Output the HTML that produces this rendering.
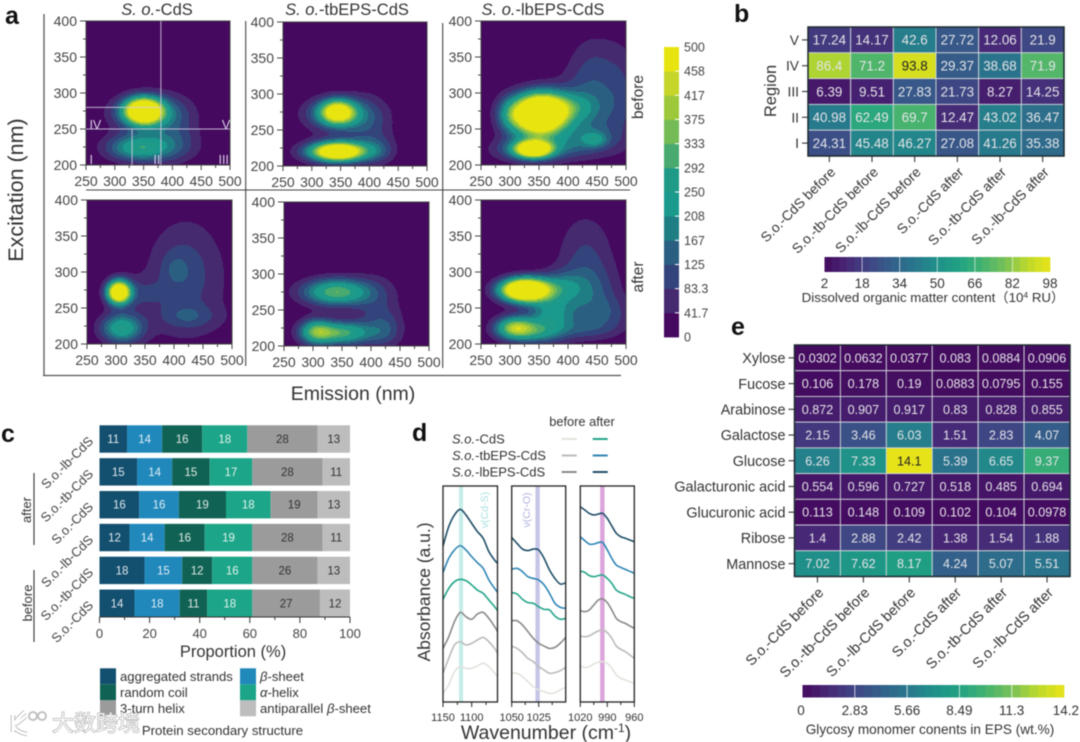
<!DOCTYPE html>
<html lang="en">
<head>
<meta charset="utf-8">
<title>EEM, heatmap and spectra figure</title>
<style>
html,body{margin:0;padding:0;background:#fff;}
svg{display:block;filter:blur(.5px);font-family:"Liberation Sans","Noto Sans CJK SC",sans-serif;}
text{fill:#333;}
.lt{font-weight:bold;fill:#111;font-size:25px;}
</style>
</head>
<body>
<svg id="fig" width="1080" height="742" viewBox="0 0 1080 742" xmlns="http://www.w3.org/2000/svg">
<rect width="1080" height="742" fill="#fff"/>
<text class="lt" x="5" y="24">a</text>
<text class="lt" x="734" y="22">b</text>
<text class="lt" x="1" y="442">c</text>
<text class="lt" x="412" y="441">d</text>
<text class="lt" x="731" y="335">e</text>

<text x="157" y="15" font-size="16.5" text-anchor="middle"><tspan font-style="italic">S. o.</tspan>-CdS</text>
<text x="347" y="15" font-size="16.5" text-anchor="middle"><tspan font-style="italic">S. o.</tspan>-tbEPS-CdS</text>
<text x="543" y="15" font-size="16.5" text-anchor="middle"><tspan font-style="italic">S. o.</tspan>-lbEPS-CdS</text>
<text transform="translate(23,190) rotate(-90)" font-size="21.5" text-anchor="middle">Excitation (nm)</text>
<text x="353" y="400" font-size="19.5" text-anchor="middle">Emission (nm)</text>
<text transform="translate(643,97) rotate(-90)" font-size="15.5" text-anchor="middle">before</text>
<text transform="translate(643,277) rotate(-90)" font-size="15.5" text-anchor="middle">after</text>

<line x1="44" y1="14" x2="44" y2="376" stroke="#555" stroke-width="1.3"/>
<line x1="43" y1="375.5" x2="621" y2="375.5" stroke="#555" stroke-width="1.3"/>
<line x1="86" y1="190" x2="630" y2="190" stroke="#444" stroke-width="1.1"/>
<line x1="245.7" y1="21" x2="245.7" y2="366" stroke="#444" stroke-width="1.1"/>
<line x1="442.7" y1="23" x2="442.7" y2="368" stroke="#444" stroke-width="1.1"/>

<g id="panelA"></g>
<g id="barA"></g>
<g id="panelB"></g>
<g id="panelC"></g>
<g id="panelD"></g>
<g id="panelE"></g>

<text transform="translate(776,91) rotate(-90)" font-size="16.5" text-anchor="middle">Region</text>
<text x="933" y="302" font-size="13.3" text-anchor="middle">Dissolved organic matter content（10<tspan font-size="8.5" dy="-4">4</tspan><tspan dy="4"> RU）</tspan></text>
<text x="930" y="734" font-size="13.6" text-anchor="middle">Glycosy monomer conents in EPS (wt.%)</text>

<text x="233" y="657" font-size="16.5" text-anchor="middle">Proportion (%)</text>
<text transform="translate(31,510) rotate(-90)" font-size="13" text-anchor="middle">after</text>
<text transform="translate(32,603) rotate(-90)" font-size="13" text-anchor="middle">before</text>
<line x1="34" y1="473" x2="34" y2="545" stroke="#333" stroke-width="1.1"/>
<line x1="34" y1="570" x2="34" y2="642" stroke="#333" stroke-width="1.1"/>
<text x="222.5" y="735" font-size="13.2" text-anchor="middle">Protein secondary structure</text>

<text transform="translate(430,592) rotate(-90)" font-size="17.5" text-anchor="middle">Absorbance (a.u.)</text>
<text x="546" y="739" font-size="19.5" text-anchor="middle">Wavenumber (cm<tspan font-size="12" dy="-7">-1</tspan><tspan dy="7">)</tspan></text>
<text x="582" y="426" font-size="12.8" text-anchor="middle">before after</text>
<text x="452" y="443.5" font-size="13"><tspan font-style="italic">S.o.</tspan>-CdS</text>
<text x="452" y="460" font-size="13"><tspan font-style="italic">S.o.</tspan>-tbEPS-CdS</text>
<text x="452" y="476.5" font-size="13"><tspan font-style="italic">S.o.</tspan>-lbEPS-CdS</text>

<g>
<path d="M13 715v17M25 712c-7 6-11 11-11 14s6 7 13 8M16 724l10-8" fill="none" stroke="#b5b5b5" stroke-width="4.5"/>
<path d="M13 715v17M25 712c-7 6-11 11-11 14s6 7 13 8M16 724l10-8" fill="none" stroke="#fff" stroke-width="2.8"/>
<circle cx="33" cy="716" r="4" fill="none" stroke="#bdbdbd" stroke-width="1.8"/>
<circle cx="42" cy="716" r="4" fill="none" stroke="#bdbdbd" stroke-width="1.8"/>
<text x="52" y="731" font-size="22" style="fill:#f7f7f7;stroke:#a0a0a0;stroke-width:1;paint-order:stroke">大数跨境</text>
</g>
</svg>

<script>
/* ---------- Panel a: EEM contour peaks [emission, excitation, intensity, width-em, width-ex] ---------- */
const peaksCdsBefore=[[350,275,700,22,12],[355,272,170,42,18],[340,224,255,37,13],[395,225,70,38,16],[405,255,70,30,28]];
const peaksTbBefore=[[345,275,450,20,11],[345,272,210,38,16],[345,220,600,30,8.5],[345,220,150,45,12],[400,255,85,30,30],[415,222,70,20,13]];
const peaksLbBefore=[[350,270,900,30,19],[390,280,170,35,14],[300,270,140,18,18],[340,222,620,20,7.5],[340,222,220,42,12],[447,235,110,14,7],[430,235,100,40,15],[445,335,75,32,35],[435,275,115,42,35],[495,300,55,22,50]];
const peaksCdsAfter=[[305,272,700,14,11],[310,222,265,25,14],[420,285,60,65,75],[420,300,55,32,38],[400,305,40,16,16],[425,238,75,35,12],[345,270,60,25,15]];
const peaksTbAfter=[[340,275,330,40,13],[305,220,270,20,12],[350,218,300,35,11],[410,255,70,30,32],[425,222,85,22,18]];
const peaksLbAfter=[[325,275,850,28,11],[385,280,130,28,14],[310,222,420,24,11],[350,215,120,25,10],[370,240,200,26,20],[430,325,80,35,42],[420,255,60,40,30],[440,275,65,35,28],[470,240,75,30,18],[420,220,70,40,10]];
const emissionTicks=[250,300,350,400,450,500];
const excitationTicks=[200,250,300,350,400];
const bandLabels=["0","41.7","83.3","125","167","208","250","292","333","375","417","458","500"];
const bandMax=500;
const bandColors=["#45095f","#462a70","#33437b","#2b5f82","#1f7e84","#1a9a8c","#1f9a88","#48aa6e","#74bb55","#9dc83c","#c5d52a","#e8e410"];

/* ---------- Panel b ---------- */
const doeCategories=["S.o.-CdS before","S.o.-tb-CdS before","S.o.-lb-CdS before","S.o.-CdS after","S.o.-tb-CdS after","S.o.-lb-CdS after"];
const regionLabels=["V","IV","III","II","I"];
const regionV=[17.24,14.17,42.6,27.72,12.06,21.9];
const regionIV=[86.4,71.2,93.8,29.37,38.68,71.9];
const regionIII=[6.39,9.51,27.83,21.73,8.27,14.25];
const regionII=[40.98,62.49,69.7,12.47,43.02,36.47];
const regionI=[24.31,45.48,46.27,27.08,41.26,35.38];
const doeTicks=[2,18,34,50,66,82,98];

/* ---------- Panel c ---------- */
const barCategories=["S.o.-lb-CdS","S.o.-tb-CdS","S.o.-CdS","S.o.-lb-CdS","S.o.-tb-CdS","S.o.-CdS"];
const aggregatedStrands=[11,15,16,12,18,14];
const betaSheet=[14,14,16,14,15,18];
const randomCoil=[16,15,19,16,12,11];
const alphaHelix=[18,17,18,19,16,18];
const threeTurnHelix=[28,28,19,28,26,27];
const antiparallelSheet=[13,11,13,11,13,12];
const proportionTicks=[0,20,40,60,80,100];

/* ---------- Panel d: absorbance (a.u., 0-100 across the plot height) ---------- */
const wnRangeA=[1150,1140,1130,1120,1110,1100,1090,1080,1070,1060,1055];
const wnRangeB=[1050,1045,1040,1035,1030,1025,1020,1015,1010,1005,1000];
const wnRangeC=[1020,1015,1010,1005,1000,995,990,985,980,975,970,965,960];
const lbAfterA=[72.2,81.2,86.6,89.2,86.6,82.7,78.9,75.8,69.6,65.7,64.2];
const tbAfterA=[59.9,66.5,70.4,72.4,70.4,67.3,64.5,61.9,56.5,52.6,50.8];
const cdsAfterA=[47.5,52.6,55.7,56.8,56.2,54.2,51.8,50.3,47.2,44.1,42.3];
const lbBeforeA=[24.8,30.2,37.2,41.5,39.5,38.3,40.7,41.5,38.7,34.9,32.6];
const tbBeforeA=[13.3,20.2,26.4,27.9,26.4,27.2,28.7,29.9,27.9,24.8,22.5];
const cdsBeforeA=[4,7.9,14,16.4,15.6,15.6,16.7,17.9,16.4,13.3,12];
const lbAfterB=[76.2,73.4,70.8,70.1,70.8,70.4,66.5,61.1,57.2,54.6,55.2];
const tbAfterB=[61.4,61.9,60.3,58,57.2,56.5,54.2,50.3,45.7,43.8,43.4];
const cdsAfterB=[50.6,50,47.5,46,45.7,44.1,42.9,42.6,39.8,38.3,38.7];
const lbBeforeB=[37.6,37.6,35.6,32.6,29.5,27.2,25.9,24.8,25.3,27.2,29.9];
const tbBeforeB=[25.9,24.8,22.8,20.2,18.7,16.4,14.8,13.3,13.6,14.5,16];
const cdsBeforeB=[13.3,13.3,11.7,9.4,7.1,5.6,4.8,4,4.3,5.6,6.8];
const lbAfterC=[90.4,88.9,87.3,86.6,87,87.3,85,81.5,78.1,76.5,75.8,75,74.2];
const tbAfterC=[76.5,74.7,73.1,73.1,73.8,73.8,70.4,66.5,63.4,62.3,61.4,60.5,59.6];
const cdsAfterC=[60.6,60,58.5,58,58.5,58.8,57.2,54.9,51.8,50.6,49.8,48.8,48];
const lbBeforeC=[42.3,41.8,42.6,44.9,47.2,47.7,46,42.6,38.7,37.2,36.4,35.2,34.1];
const tbBeforeC=[30.6,30.2,30.6,31.8,32.9,33.3,32.1,29.5,25.9,24.4,23.3,21.8,20.2];
const cdsBeforeC=[16.7,16,16.4,17.6,18.4,18.7,17.9,15.6,12.5,11,10.2,9.4,8.6];

/* ---------- Panel e ---------- */
const monomerCategories=["S.o.-CdS before","S.o.-tb-CdS before","S.o.-lb-CdS before","S.o.-CdS after","S.o.-tb-CdS after","S.o.-lb-CdS after"];
const monomerLabels=["Xylose","Fucose","Arabinose","Galactose","Glucose","Galacturonic acid","Glucuronic acid","Ribose","Mannose"];
const xylose=[0.0302,0.0632,0.0377,0.083,0.0884,0.0906];
const fucose=[0.106,0.178,0.19,0.0883,0.0795,0.155];
const arabinose=[0.872,0.907,0.917,0.83,0.828,0.855];
const galactose=[2.15,3.46,6.03,1.51,2.83,4.07];
const glucose=[6.26,7.33,14.1,5.39,6.65,9.37];
const galacturonicAcid=[0.554,0.596,0.727,0.518,0.485,0.694];
const glucuronicAcid=[0.113,0.148,0.109,0.102,0.104,0.0978];
const ribose=[1.4,2.88,2.42,1.38,1.54,1.88];
const mannose=[7.02,7.62,8.17,4.24,5.07,5.51];
const monomerTicks=["0","2.83","5.66","8.49","11.3","14.2"];

/* ---------- helpers ---------- */
const NS="http://www.w3.org/2000/svg";
function mk(parent,tag,attrs){
  const n=document.createElementNS(NS,tag);
  for(const k in attrs)n.setAttribute(k,attrs[k]);
  parent.appendChild(n);
  return n;
}
function label(parent,x,y,str,size,anchor,fill,rot){
  const n=mk(parent,"text",{x:x,y:y,"font-size":size,"text-anchor":anchor||"start"});
  if(fill)n.style.fill=fill;
  if(rot)n.setAttribute("transform","rotate("+rot+" "+x+" "+y+")");
  n.textContent=str;
  return n;
}
const vStops=[[68,10,94],[71,40,118],[63,70,132],[51,96,138],[40,119,140],[31,144,137],[32,162,131],[68,178,111],[120,192,88],[188,217,42],[233,228,24]];
function viridis(t){
  t=Math.max(0,Math.min(1,t))*10;
  const i=Math.min(9,Math.floor(t)),f=t-i,a=vStops[i],b=vStops[i+1];
  return "rgb("+a.map((v,k)=>Math.round(v+(b[k]-v)*f)).join(",")+")";
}

/* ---------- Panel a ---------- */
const panelA=document.getElementById("panelA");
const panels=[
 {name:"cds-before",x:86,y:21,w:144,h:144,peaks:peaksCdsBefore},
 {name:"tbeps-before",x:283,y:22,w:144,h:144,peaks:peaksTbBefore},
 {name:"lbeps-before",x:481,y:21,w:145,h:144,peaks:peaksLbBefore},
 {name:"cds-after",x:87,y:200,w:145,h:144,peaks:peaksCdsAfter},
 {name:"tbeps-after",x:284,y:202,w:145,h:144,peaks:peaksTbAfter},
 {name:"lbeps-after",x:481,y:200,w:145,h:144,peaks:peaksLbAfter}
];
function emX(p,v){return p.x+(v-250)/250*p.w;}
function exY(p,v){return p.y+p.h-(v-200)/200*p.h;}
function intensity(peaks,em,ex){
  let s=0;
  peaks.forEach(function(k){
    const dx=(em-k[0])/k[3],dy=(ex-k[1])/k[4];
    s+=k[2]*Math.exp(-(dx*dx+dy*dy)/2);
  });
  return Math.min(s,bandMax-0.01);
}
panels.forEach(function(p){
  const g=mk(panelA,"g",{});
  
  
  const paths=bandColors.map(function(){return "";});
  const n=bandColors.length;
  for(let row=0;row<p.h;row++){
    let start=0,cur=-1;
    for(let col=0;col<=p.w;col++){
      let band=-2;
      if(col<p.w){
        const em=250+(col+.5)/p.w*250,ex=400-(row+.5)/p.h*200;
        band=Math.floor(intensity(p.peaks,em,ex)/bandMax*n);
      }
      if(band!==cur){
        if(cur>=0)paths[cur]+="M"+(p.x+start)+" "+(p.y+row)+"h"+(col-start)+"v1h-"+(col-start)+"z";
        cur=band;start=col;
      }
    }
  }
  paths.forEach(function(d,i){
    if(!d)return;
    const b=mk(g,"path",{d:d,fill:bandColors[i],"shape-rendering":"crispEdges"});
    
    
  });
  const fr=mk(g,"rect",{x:p.x,y:p.y,width:p.w,height:p.h,fill:"none",stroke:"#444","stroke-width":1});
  
  
  emissionTicks.forEach(function(v,i){
    const x=emX(p,v);
    const t=mk(g,"line",{x1:x,x2:x,y1:p.y+p.h,y2:p.y+p.h+5,stroke:"#444","stroke-width":1});
    
    
    if(i<emissionTicks.length-1){
      const xm=emX(p,v+25);
      const tm=mk(g,"line",{x1:xm,x2:xm,y1:p.y+p.h,y2:p.y+p.h+3,stroke:"#444","stroke-width":1});
      
      
    }
    const l=label(g,x,p.y+p.h+21,String(v),14,"middle","#444");
    
    
  });
  excitationTicks.forEach(function(v,i){
    const y=exY(p,v);
    const t=mk(g,"line",{x1:p.x-6,x2:p.x,y1:y,y2:y,stroke:"#444","stroke-width":1});
    
    
    if(i<excitationTicks.length-1){
      const ym=exY(p,v+25);
      const tm=mk(g,"line",{x1:p.x-3,x2:p.x,y1:ym,y2:ym,stroke:"#444","stroke-width":1});
      
      
    }
    const l=label(g,p.x-9,y+5,String(v),14,"end","#444");
    
    
  });
});
/* region boundaries on the first panel */
const regionEmissionBounds=[380,330];
const regionExcitationBounds=[250,280];
const regionTextAt=[["IV",256,257],["V",486,257],["I",256,208],["II",367,208],["III",480,208]];
(function(){
  const p=panels[0];
  const segs=[
    [emX(p,regionEmissionBounds[0]),p.y,emX(p,regionEmissionBounds[0]),p.y+p.h],
    [p.x,exY(p,regionExcitationBounds[0]),p.x+p.w,exY(p,regionExcitationBounds[0])],
    [p.x,exY(p,regionExcitationBounds[1]),emX(p,regionEmissionBounds[0]),exY(p,regionExcitationBounds[1])],
    [emX(p,regionEmissionBounds[1]),exY(p,regionExcitationBounds[0]),emX(p,regionEmissionBounds[1]),p.y+p.h]
  ];
  segs.forEach(function(s){
    const l=mk(panelA,"line",{x1:s[0],y1:s[1],x2:s[2],y2:s[3],stroke:"#d8cfe6","stroke-width":1,opacity:.85});
    
    
  });
  regionTextAt.forEach(function(r){
    const t=label(panelA,emX(p,r[1]),exY(p,r[2])+5,r[0],12.5,"start","#d8cfe6");
    
    
  });
})();
/* colorbar */
(function(){
  const g=document.getElementById("barA");
  const x=664,w=15,top=47,bottom=337,n=bandColors.length,step=(bottom-top)/n;
  bandColors.forEach(function(c,i){
    const r=mk(g,"rect",{x:x,y:bottom-(i+1)*step,width:w,height:step+.4,fill:c});
    
    
  });
  bandLabels.forEach(function(s,i){
    const y=bottom-i*step;
    if(i>0&&i<n){
      const tk=mk(g,"line",{x1:x+w-4,x2:x+w,y1:y,y2:y,stroke:"#fff","stroke-width":1});
      
      
    }
    const l=label(g,684,y+4.5,s,12.5,"start","#444");
    
    
  });
})();

/* ---------- heatmap builder ---------- */
function heatmap(g,box,rows,rowLabels,cols,vmin,vmax,fontSize,fmtName,lblSize){
  const cw=box.w/cols.length,ch=box.h/rows.length;
  rows.forEach(function(vals,r){
    vals.forEach(function(v,c){
      const t=(v-vmin)/(vmax-vmin);
      const rect=mk(g,"rect",{x:box.x+c*cw,y:box.y+r*ch,width:cw,height:ch,fill:viridis(t),stroke:"#cfd6da","stroke-width":.9});
      
      
      const tx=label(g,box.x+(c+.5)*cw,box.y+(r+.5)*ch+fontSize*.36,String(v),fontSize,"middle",t>.9?"#222":"#e4e4e8");
      
      
    });
    const y=box.y+(r+.5)*ch;
    const tk=mk(g,"line",{x1:box.x-6,x2:box.x,y1:y,y2:y,stroke:"#333","stroke-width":1.1});
    
    
    const rl=label(g,box.x-9,y+lblSize*.36,rowLabels[r],lblSize,"end","#333");
    
    
  });
  cols.forEach(function(s,c){
    const x=box.x+(c+.5)*cw;
    const tk=mk(g,"line",{x1:x,x2:x,y1:box.y+box.h,y2:box.y+box.h+6,stroke:"#333","stroke-width":1.1});
    
    
    const cl=label(g,x+7,box.y+box.h+17,s,lblSize,"end","#333",-45);
    
    
  });
  const fr=mk(g,"rect",{x:box.x,y:box.y,width:box.w,height:box.h,fill:"none",stroke:"#1d2a30","stroke-width":1.5});
  
  
}
function gradientBar(g,box,steps,name){
  for(let i=0;i<steps;i++){
    const r=mk(g,"rect",{x:box.x+i*box.w/steps,y:box.y,width:box.w/steps+.3,height:box.h,fill:viridis((i+.5)/steps)});
    
    
  }
}

/* ---------- Panel b ---------- */
(function(){
  const g=document.getElementById("panelB");
  const box={x:808,y:27,w:256,h:129};
  heatmap(g,box,[regionV,regionIV,regionIII,regionII,regionI],regionLabels,doeCategories,2,98,13.4,"doc",13.8);
  const bar={x:824.5,y:257,w:225.5,h:15};
  gradientBar(g,bar,30,"doc-colorbar");
  doeTicks.forEach(function(v,i){
    const x=bar.x+(v-2)/96*bar.w;
    if(i>0&&i<doeTicks.length-1){
      const t=mk(g,"line",{x1:x,x2:x,y1:bar.y,y2:bar.y+bar.h,stroke:"#fff","stroke-width":.8,opacity:.75});
      
      
    }
    const l=label(g,x,288,String(v),13.5,"middle","#333");
    
    
  });
})();

/* ---------- Panel c ---------- */
(function(){
  const g=document.getElementById("panelC");
  const x0=99.5,x1=350,top=425.3,barH=27.4,pitch=32.85;
  const series=[
    {name:"aggregated strands",vals:aggregatedStrands,c:"#134f6e",t:"#dfe8ee"},
    {name:"beta-sheet",vals:betaSheet,c:"#2088bb",t:"#dfeef6"},
    {name:"random coil",vals:randomCoil,c:"#106354",t:"#dfe8e6"},
    {name:"alpha-helix",vals:alphaHelix,c:"#1ca588",t:"#e2f4ee"},
    {name:"3-turn helix",vals:threeTurnHelix,c:"#9b9b9b",t:"#333"},
    {name:"antiparallel beta-sheet",vals:antiparallelSheet,c:"#bdbdbd",t:"#333"}
  ];
  function xP(v){return x0+v/100*(x1-x0);}
  barCategories.forEach(function(cat,r){
    const y=top+r*pitch;
    const total=series.reduce(function(a,s){return a+s.vals[r];},0);
    let cum=0;
    series.forEach(function(s){
      const v=s.vals[r],share=v/total*100;
      const a=xP(cum),b=xP(cum+share);
      const rect=mk(g,"rect",{x:a,y:y,width:b-a,height:barH,fill:s.c});
      
      
      const t=label(g,(a+b)/2,y+barH/2+4,String(v),11.5,"middle",s.t);
      
      
      cum+=share;
    });
    const l=label(g,94,y+barH/2+3,cat,13,"end","#444",-45);
    
    
  });
  const axisY=617;
  const ax=mk(g,"line",{x1:x0,x2:x1,y1:axisY,y2:axisY,stroke:"#333","stroke-width":1});
  
  
  proportionTicks.forEach(function(v,i){
    const x=xP(v);
    const t=mk(g,"line",{x1:x,x2:x,y1:axisY,y2:axisY+6,stroke:"#333","stroke-width":1});
    
    
    if(i<proportionTicks.length-1){
      const xm=xP(v+10);
      const tm=mk(g,"line",{x1:xm,x2:xm,y1:axisY,y2:axisY+3,stroke:"#333","stroke-width":1});
      
      
    }
    const l=label(g,x,638,String(v),13,"middle","#444");
    
    
  });
  const legendOrder=[[0,100,668.3,"aggregated strands",false],[2,100,684.3,"random coil",false],[4,100,700.3,"3-turn helix",false],[1,240,668.3,"-sheet","β"],[3,240,684.3,"-helix","α"],[5,240,700.3,"antiparallel ","β2"]];
  legendOrder.forEach(function(e){
    const s=series[e[0]];
    const sw=mk(g,"rect",{x:e[1],y:e[2],width:16,height:16,fill:s.c});
    
    
    const t=label(g,e[1]+20,e[2]+12.5,"",13.1,"start","#333");
    
    
    if(e[4]==="β2"){
      t.appendChild(document.createTextNode(e[3]));
      const i=document.createElementNS(NS,"tspan");i.setAttribute("font-style","italic");i.textContent="β";t.appendChild(i);
      t.appendChild(document.createTextNode("-sheet"));
    }else if(e[4]){
      const i=document.createElementNS(NS,"tspan");i.setAttribute("font-style","italic");i.textContent=e[4];t.appendChild(i);
      t.appendChild(document.createTextNode(e[3]));
    }else{t.textContent=e[3];}
  });
})();

/* ---------- Panel d ---------- */
(function(){
  const g=document.getElementById("panelD");
  const top=486,bottom=702;
  const lineStyles=[["#1f4e68","lb-after"],["#2f86b5","tb-after"],["#25a58a","cds-after"],["#8a8a8a","lb-before"],["#bbbbbb","tb-before"],["#e2e2dd","cds-before"]];
  const boxes=[
    {name:"cd-s",x:443,w:54.5,wnLeft:1150,wnRight:1055,wn:wnRangeA,curves:[lbAfterA,tbAfterA,cdsAfterA,lbBeforeA,tbBeforeA,cdsBeforeA],band:[1122,1115],bandC:"#c6ece8",major:[1150,1100],minor:[1125,1075],
     note:"ν(Cd-S)",noteX:488,noteC:"#a7dfe0"},
    {name:"cr-o",x:511.7,w:54,wnLeft:1050,wnRight:1000,wn:wnRangeB,curves:[lbAfterB,tbAfterB,cdsAfterB,lbBeforeB,tbBeforeB,cdsBeforeB],band:[1028,1024],bandC:"#c5c5e6",major:[1050,1025],minor:[1037.5,1012.5],
     note:"ν(Cr-O)",noteX:530,noteC:"#b0b0e0"},
    {name:"fingerprint",x:580.3,w:54,wnLeft:1020,wnRight:960,wn:wnRangeC,curves:[lbAfterC,tbAfterC,cdsAfterC,lbBeforeC,tbBeforeC,cdsBeforeC],band:[998,993],bandC:"#dba6dc",major:[1020,990,960],minor:[1005,975]}
  ];
  function yA(a){return bottom-a/100*(bottom-top);}
  boxes.forEach(function(b){
    function xW(w){return b.x+(b.wnLeft-w)/(b.wnLeft-b.wnRight)*b.w;}
    const band=mk(g,"rect",{x:xW(b.band[0]),y:top,width:xW(b.band[1])-xW(b.band[0]),height:bottom-top,fill:b.bandC});
    
    
    if(b.note){
      const n=label(g,b.noteX,510,b.note,10.5,"middle",b.noteC,-90);
      
      
    }
    b.curves.forEach(function(vals,ci){
      const pts=vals.map(function(a,i){return [xW(b.wn[i]),yA(a)];});
      let d="M"+pts[0][0].toFixed(2)+" "+pts[0][1].toFixed(2);
      for(let i=0;i<pts.length-1;i++){
        const p0=pts[Math.max(0,i-1)],p1=pts[i],p2=pts[i+1],p3=pts[Math.min(pts.length-1,i+2)];
        d+="C"+(p1[0]+(p2[0]-p0[0])/6).toFixed(2)+" "+(p1[1]+(p2[1]-p0[1])/6).toFixed(2)+" "+(p2[0]-(p3[0]-p1[0])/6).toFixed(2)+" "+(p2[1]-(p3[1]-p1[1])/6).toFixed(2)+" "+p2[0].toFixed(2)+" "+p2[1].toFixed(2);
      }
      const path=mk(g,"path",{d:d,fill:"none",stroke:lineStyles[ci][0],"stroke-width":1.6});
      
      
    });
    const fr=mk(g,"rect",{x:b.x,y:top,width:b.w,height:bottom-top,fill:"none",stroke:"#222","stroke-width":1.3});
    
    
    b.major.forEach(function(w){
      const t=mk(g,"line",{x1:xW(w),x2:xW(w),y1:bottom,y2:bottom+5,stroke:"#222","stroke-width":1});
      
      
      const l=label(g,xW(w),721,String(w),11,"middle","#333");
      
      
    });
    b.minor.forEach(function(w){
      const t=mk(g,"line",{x1:xW(w),x2:xW(w),y1:bottom,y2:bottom+3,stroke:"#222","stroke-width":1});
      
      
    });
  });
  const legendSegs=[[561.7,439,"#e2e2dd"],[592.7,439,"#25a58a"],[561.7,455.5,"#bbbbbb"],[592.7,455.5,"#2f86b5"],[561.7,472,"#8a8a8a"],[592.7,472,"#1f4e68"]];
  legendSegs.forEach(function(s){
    const l=mk(g,"line",{x1:s[0],x2:s[0]+15,y1:s[1],y2:s[1],stroke:s[2],"stroke-width":2});
    
    
  });
})();

/* ---------- Panel e ---------- */
(function(){
  const g=document.getElementById("panelE");
  const box={x:794.5,y:345,w:275.5,h:231.5};
  heatmap(g,box,[xylose,fucose,arabinose,galactose,glucose,galacturonicAcid,glucuronicAcid,ribose,mannose],monomerLabels,monomerCategories,0,14.2,12.6,"monomer",14.4);
  const bar={x:802.5,y:685,w:261.5,h:12.5};
  gradientBar(g,bar,30,"monomer-colorbar");
  monomerTicks.forEach(function(s,i){
    const x=bar.x+i*bar.w/(monomerTicks.length-1);
    if(i>0&&i<monomerTicks.length-1){
      const t=mk(g,"line",{x1:x,x2:x,y1:bar.y,y2:bar.y+bar.h,stroke:"#fff","stroke-width":.9,opacity:.8});
      
      
    }
    const l=label(g,x,715,s,13.5,i===monomerTicks.length-1?"end":"middle","#333");
    if(i===monomerTicks.length-1)l.setAttribute("x",1079);
    if(i===0)l.setAttribute("x",801);
    
    
  });
})();
</script>
</body>
</html>
